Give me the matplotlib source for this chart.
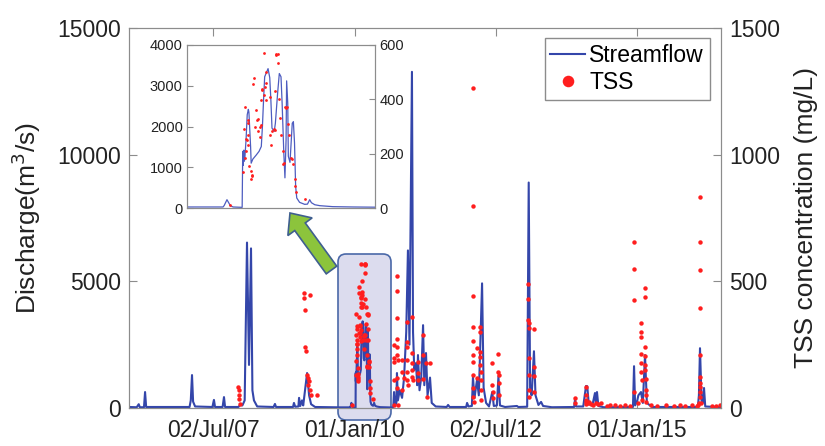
import numpy as np
import pandas as pd
import matplotlib
matplotlib.use("Agg")
import matplotlib.pyplot as plt
import matplotlib.dates as mdates
from matplotlib.patches import FancyBboxPatch, FancyArrow
from matplotlib.transforms import IdentityTransform

plt.rcParams['font.family'] = ['Liberation Sans', 'DejaVu Sans']

# daily discharge (m3/s), key points
flow_dates = [
    '2006-01-01', '2006-02-20', '2006-03-05', '2006-03-12', '2006-04-08', '2006-04-15', '2006-04-22',
    '2007-01-28', '2007-02-05', '2007-02-13', '2007-02-20', '2007-03-05', '2007-06-25', '2007-07-05',
    '2007-07-12', '2007-08-30', '2007-09-08', '2007-09-15', '2007-12-10', '2007-12-22', '2008-01-05',
    '2008-01-20', '2008-02-04', '2008-02-17', '2008-03-01', '2008-03-10', '2008-03-20', '2008-04-10',
    '2008-07-25', '2008-08-03', '2008-08-10', '2008-11-28', '2008-12-04', '2008-12-12', '2009-01-02',
    '2009-01-06', '2009-01-14', '2009-01-25', '2009-02-02', '2009-02-27', '2009-03-12', '2009-03-25',
    '2009-04-20', '2009-10-01', '2009-12-04', '2009-12-06', '2009-12-11', '2009-12-17', '2009-12-22',
    '2010-01-07', '2010-01-08', '2010-01-09', '2010-01-10', '2010-01-11', '2010-01-12', '2010-01-14',
    '2010-01-16', '2010-01-18', '2010-01-19', '2010-01-22', '2010-01-23', '2010-01-26', '2010-02-01',
    '2010-02-06', '2010-02-10', '2010-02-12', '2010-02-14', '2010-02-16', '2010-02-21', '2010-02-22',
    '2010-02-25', '2010-02-27', '2010-03-01', '2010-03-05', '2010-03-07', '2010-03-11', '2010-03-14',
    '2010-03-17', '2010-03-19', '2010-03-22', '2010-03-24', '2010-03-26', '2010-03-27', '2010-03-29',
    '2010-03-30', '2010-04-02', '2010-04-06', '2010-04-08', '2010-04-10', '2010-04-12', '2010-04-14',
    '2010-04-19', '2010-04-28', '2010-05-03', '2010-05-07', '2010-05-10', '2010-05-16', '2010-05-25',
    '2010-06-17', '2010-07-23', '2010-08-31', '2010-09-08', '2010-09-13', '2010-09-20', '2010-09-28',
    '2010-10-02', '2010-10-08', '2010-10-20', '2010-11-04', '2010-11-17', '2010-12-01', '2010-12-12',
    '2010-12-22', '2011-01-07', '2011-01-14', '2011-01-22', '2011-02-02', '2011-02-10', '2011-02-15',
    '2011-02-25', '2011-03-08', '2011-03-20', '2011-03-28', '2011-04-08', '2011-04-18', '2011-05-04',
    '2011-05-15', '2011-06-10', '2011-08-20', '2011-08-29', '2011-09-08', '2011-12-24', '2011-12-30',
    '2012-01-08', '2012-01-30', '2012-02-06', '2012-02-16', '2012-03-03', '2012-03-15', '2012-04-05',
    '2012-04-15', '2012-05-01', '2012-05-20', '2012-06-10', '2012-06-20', '2012-07-10', '2012-07-20',
    '2012-07-30', '2012-09-01', '2012-11-17', '2012-11-25', '2013-01-22', '2013-02-01', '2013-02-10',
    '2013-02-20', '2013-03-07', '2013-03-17', '2013-04-05', '2013-04-22', '2013-05-05', '2013-07-01',
    '2013-11-22', '2013-11-28', '2013-12-05', '2014-01-20', '2014-02-07', '2014-02-15', '2014-02-25',
    '2014-03-20', '2014-04-06', '2014-04-12', '2014-04-19', '2014-04-28', '2014-06-01', '2014-12-08',
    '2014-12-15', '2014-12-22', '2015-01-05', '2015-01-12', '2015-01-29', '2015-02-10', '2015-02-24',
    '2015-03-08', '2015-04-10', '2016-02-01', '2016-02-08', '2016-02-15', '2016-02-25', '2016-03-05',
    '2016-03-12', '2016-03-20', '2016-06-30']
flow_values = [
    40, 30, 150, 30, 30, 630, 40,
    40, 300, 1300, 250, 60, 40, 320,
    40, 40, 430, 40, 40, 120, 100,
    300, 6530, 1700, 6300, 700, 300, 60,
    40, 160, 40, 40, 200, 50, 60,
    400, 80, 300, 100, 1380, 500, 150,
    40, 25, 25, 60, 204, 57, 25,
    16, 1390, 1050, 1420, 1150, 1265, 1700,
    2290, 2420, 2350, 1500, 1100, 1200, 1300,
    1390, 1510, 2000, 2650, 3220, 3390, 3420,
    3200, 2650, 1960, 1880, 2080, 2820, 3300,
    3220, 2570, 1350, 740, 1670, 3120, 2570,
    1270, 1120, 2080, 2120, 1600, 530, 245,
    139, 90, 95, 204, 130, 80, 57,
    33, 25, 20, 40, 630, 100, 200,
    1380, 300, 700, 400, 1200, 3000, 6220,
    2500, 13270, 3000, 1500, 1770, 900, 2090,
    700, 1200, 3270, 900, 2170, 500, 1200,
    200, 60, 40, 120, 40, 40, 200,
    60, 80, 1220, 400, 1100, 500, 4920,
    800, 200, 60, 630, 80, 100, 1250,
    100, 40, 80, 40, 50, 8900, 800,
    500, 2240, 500, 120, 240, 80, 30,
    40, 350, 60, 60, 870, 860, 150,
    100, 590, 150, 630, 80, 30, 40,
    1650, 100, 300, 500, 630, 200, 2090,
    200, 40, 40, 500, 2360, 300, 200,
    790, 60, 30]

# TSS samples (mg/L)
tss_dates = [
    '2007-12-10', '2007-12-12', '2007-12-14', '2007-12-17', '2007-12-20',
    '2009-02-07', '2009-02-09', '2009-03-18', '2009-02-13', '2009-02-15', '2009-02-20', '2009-02-27',
    '2009-03-05', '2009-03-12', '2009-03-08', '2009-03-18', '2009-03-25', '2009-05-02',
    '2009-12-16', '2010-01-08', '2010-01-10', '2010-01-12', '2010-01-12', '2010-01-13', '2010-01-13',
    '2010-01-15', '2010-01-17', '2010-01-17', '2010-01-18', '2010-01-18', '2010-01-20', '2010-01-22',
    '2010-01-23', '2010-01-24', '2010-01-24', '2010-01-26', '2010-01-28', '2010-01-30', '2010-01-31',
    '2010-02-03', '2010-02-04', '2010-02-05', '2010-02-07', '2010-02-09', '2010-02-08', '2010-02-10',
    '2010-02-11', '2010-02-12', '2010-02-14', '2010-02-14', '2010-02-16', '2010-02-18', '2010-02-18',
    '2010-02-19', '2010-02-25', '2010-02-25', '2010-02-28', '2010-03-01', '2010-03-04', '2010-03-06',
    '2010-03-07', '2010-03-08', '2010-03-09', '2010-03-11', '2010-03-12', '2010-03-14', '2010-03-15',
    '2010-03-17', '2010-03-20', '2010-03-21', '2010-03-22', '2010-03-24', '2010-03-26', '2010-03-27',
    '2010-03-29', '2010-03-31', '2010-04-03', '2010-04-05', '2010-04-07', '2010-04-10', '2010-04-11',
    '2010-04-13', '2010-04-28',
    '2010-09-11', '2010-09-13', '2010-09-14', '2010-09-15', '2010-09-16',
    '2010-09-30', '2010-10-01', '2010-10-02', '2010-10-03', '2010-10-04', '2010-10-05', '2010-10-06',
    '2010-10-02', '2010-10-04', '2010-10-06',
    '2010-11-02', '2010-11-04', '2010-11-06', '2010-11-17',
    '2010-12-04', '2010-12-05', '2010-12-06', '2010-12-07', '2010-12-08', '2010-12-09', '2010-12-10',
    '2011-01-06', '2011-01-07', '2011-01-08', '2011-01-09', '2011-01-10', '2011-01-11',
    '2011-02-14', '2011-02-15', '2011-02-16', '2011-03-19', '2011-03-20', '2011-03-21',
    '2011-04-08', '2011-04-14', '2011-05-04',
    '2012-02-05', '2012-02-05', '2012-02-06', '2012-02-06', '2012-02-07', '2012-02-07', '2012-02-08',
    '2012-02-08', '2012-02-09', '2012-02-09', '2012-02-10',
    '2012-03-03', '2012-03-05',
    '2012-03-21', '2012-03-22', '2012-03-23', '2012-03-24', '2012-03-25', '2012-03-26', '2012-03-27',
    '2012-03-28', '2012-03-29',
    '2012-06-08', '2012-06-10', '2012-06-12', '2012-06-14',
    '2012-07-18', '2012-07-20', '2012-07-21', '2012-07-22', '2012-07-24',
    '2013-01-29', '2013-01-30', '2013-01-30', '2013-01-31', '2013-01-31', '2013-02-01', '2013-02-02',
    '2013-02-03', '2013-02-04',
    '2013-03-06', '2013-03-07', '2013-03-08', '2013-03-09',
    '2013-11-27', '2013-11-29',
    '2014-02-06', '2014-02-07', '2014-02-08', '2014-02-09', '2014-02-10', '2014-02-20', '2014-03-01',
    '2014-03-10', '2014-03-25', '2014-04-10', '2014-04-25',
    '2014-05-15', '2014-06-23', '2014-07-13', '2014-08-14', '2014-09-15', '2014-10-18', '2014-11-19',
    '2014-12-14', '2014-12-15', '2014-12-16', '2014-12-17',
    '2015-01-10',
    '2015-01-27', '2015-01-28', '2015-01-29', '2015-01-30', '2015-01-31', '2015-02-01', '2015-02-02',
    '2015-02-03',
    '2015-02-22', '2015-02-23', '2015-02-24', '2015-02-25', '2015-02-26', '2015-02-27', '2015-02-28',
    '2015-03-01', '2015-03-02', '2015-03-03',
    '2015-04-04', '2015-05-13', '2015-07-10', '2015-08-31', '2015-10-09', '2015-11-10', '2015-12-26',
    '2016-01-27', '2016-02-05', '2016-02-10',
    '2016-02-13', '2016-02-14', '2016-02-14', '2016-02-15', '2016-02-15', '2016-02-16', '2016-02-16',
    '2016-02-17', '2016-02-17', '2016-02-18', '2016-02-19',
    '2016-05-03', '2016-05-29', '2016-06-24']
tss_values = [
    83, 71, 51, 35, 16,
    453, 433, 445, 386, 240, 224, 130,
    118, 106, 90, 71, 51, 51,
    10, 131, 290, 373, 184, 253, 208,
    251, 233, 324, 312, 269, 156, 135,
    107, 122, 116, 455, 478, 298, 359,
    324, 329, 282, 298, 306, 263, 398,
    435, 437, 569, 416, 447, 459, 398,
    502, 410, 267, 233, 285, 290, 288,
    429, 563, 567, 567, 533, 400, 331,
    267, 208, 163, 165, 373, 367, 373,
    310, 269, 184, 181, 163, 108, 80,
    59, 34,
    248, 197, 181, 110, 12,
    520, 461, 354, 272, 240, 209, 189,
    118, 79, 12,
    189, 142, 71, 118,
    339, 260, 240, 189, 142, 110, 91,
    358, 217, 177, 150, 122, 110,
    181, 138, 110, 287, 209, 114,
    177, 43, 177,
    1264, 799, 441, 319, 264, 209, 181,
    130, 79, 43, 24,
    236, 118,
    319, 299, 220, 201, 169, 142, 110,
    71, 31,
    177, 91, 63, 39,
    213, 142, 130, 98, 51,
    488, 429, 346, 335, 315, 197, 130,
    71, 43,
    311, 161, 126, 63,
    39, 20,
    83, 51, 24, 31, 16, 20, 24,
    16, 12, 18, 15,
    20, 8, 10, 10, 8, 10, 8,
    657, 547, 425, 63,
    20,
    335, 299, 280, 213, 177, 142, 110,
    31,
    472, 437, 240, 205, 169, 150, 114,
    71, 51, 24,
    10, 8, 10, 8, 10, 8, 10,
    8, 12, 20,
    831, 654, 543, 394, 209, 122, 98,
    83, 63, 43, 20,
    8, 8, 10]

xtick_dates = ['2007-07-02', '2010-01-01', '2012-07-02', '2015-01-01']

fdates = pd.to_datetime(flow_dates)
tdates = pd.to_datetime(tss_dates)

line_c = '#3446aa'
dot_c = '#ff1e1e'
spine_c = '#8c8c8c'
txt_c = '#222222'

fig = plt.figure(figsize=(8.25, 4.46), dpi=100)
ax = fig.add_axes([129 / 825, 1 - 408 / 446, 592 / 825, 380 / 446])
ax2 = ax.twinx()

h1, = ax.plot(fdates, flow_values, color=line_c, lw=1.5, zorder=3, label='Streamflow')
h2, = ax2.plot(tdates, tss_values, 'o', color=dot_c, ms=3.2, mew=0, label='TSS')

ax.set_xlim(pd.Timestamp('2006-01-01'), pd.Timestamp('2016-06-30'))
ax.set_ylim(0, 15000)
ax2.set_ylim(0, 1500)
ax.set_yticks([0, 5000, 10000, 15000])
ax2.set_yticks([0, 500, 1000, 1500])
ax.set_xticks(pd.to_datetime(xtick_dates))
ax.xaxis.set_major_formatter(mdates.DateFormatter('%d/%b/%y'))

for a in (ax, ax2):
    for s in a.spines.values():
        s.set_color(spine_c)
    a.tick_params(direction='in', length=6, color=spine_c, labelsize=16.5, labelcolor=txt_c)
ax.tick_params(axis='x', top=True, pad=8)
ax.tick_params(axis='y', pad=6)
ax2.tick_params(axis='y', pad=6)

ax.set_ylabel('Discharge(m$^3$/s)', fontsize=19, color=txt_c, labelpad=10)
ax2.set_ylabel('TSS concentration (mg/L)', fontsize=19, color=txt_c, labelpad=10)

leg = ax2.legend([h1, h2], ['Streamflow', 'TSS'], loc='upper right',
                 bbox_to_anchor=(0.981, 0.974), borderaxespad=0, fontsize=16.5, fancybox=False,
                 edgecolor=spine_c, framealpha=1, handlelength=1.5, handletextpad=0.2,
                 borderpad=0.25, labelspacing=0.2, markerscale=2.6)
leg.get_frame().set_linewidth(1.0)

# highlighted flood window
box = FancyBboxPatch((338, 26), 53, 166, boxstyle='round,pad=0,rounding_size=8',
                     transform=IdentityTransform(), facecolor='#dcdcee', edgecolor='#4a68a8',
                     lw=1.2, zorder=1, clip_on=False)
ax.add_patch(box)

arrow = FancyArrow(331.5, 176, -41.5, 57, width=13, head_width=30, head_length=17,
                   length_includes_head=True, transform=IdentityTransform(),
                   facecolor='#8cc43c', edgecolor='#3f5f8f', lw=1.2, zorder=5)
fig.add_artist(arrow)

# inset
axi = fig.add_axes([187 / 825, 1 - 208 / 446, 188 / 825, 163 / 446])
axi2 = axi.twinx()
axi.plot(fdates, flow_values, color='#4d5cc0', lw=0.9)
axi2.plot(tdates, tss_values, 'o', color=dot_c, ms=2.0, mew=0)
axi.set_xlim(pd.Timestamp('2009-10-01'), pd.Timestamp('2010-08-31'))
axi.set_ylim(0, 4000)
axi2.set_ylim(0, 600)
axi.set_yticks([0, 1000, 2000, 3000, 4000])
axi2.set_yticks([0, 200, 400, 600])
axi.set_xticks([])
for a in (axi, axi2):
    for s in a.spines.values():
        s.set_color(spine_c)
    a.tick_params(direction='in', length=4, color=spine_c, labelsize=10.5, labelcolor=txt_c, pad=3)

fig.savefig('out.png', dpi=100)
